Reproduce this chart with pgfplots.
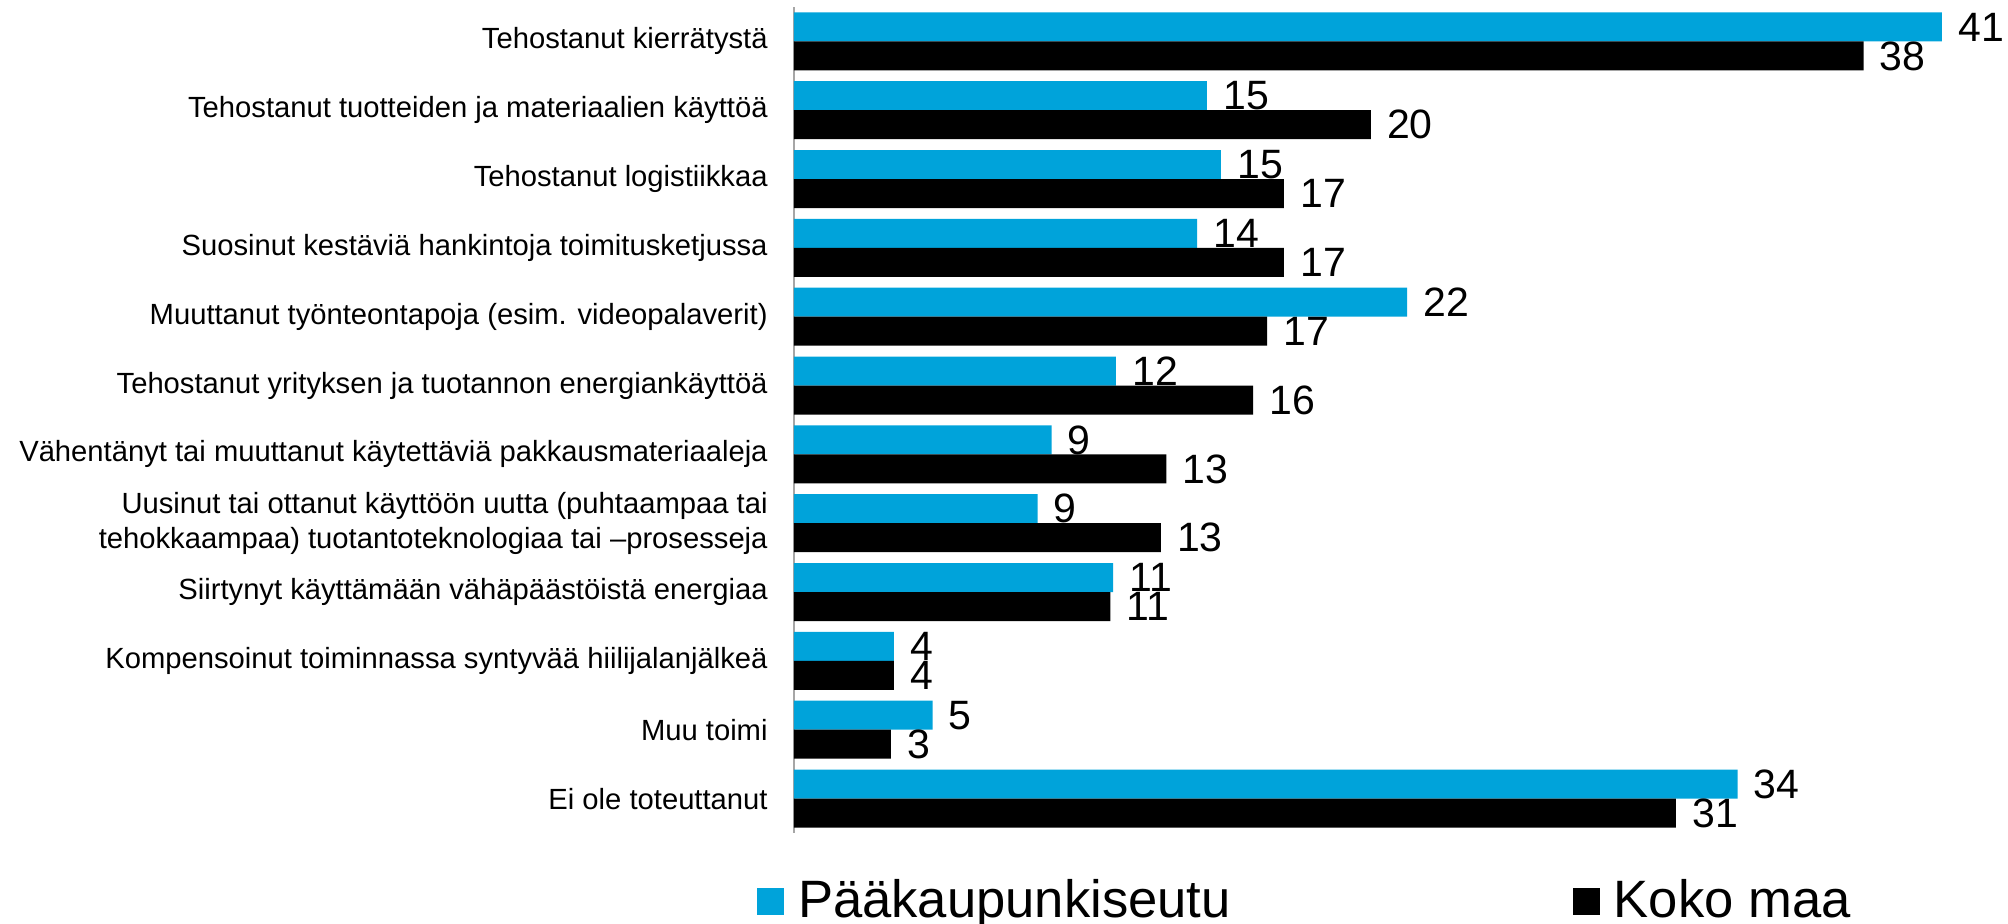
\documentclass[border=0pt]{standalone}
\usepackage{fontspec}
\setmainfont{Liberation Sans}
\usepackage{pgfplots}
\usepackage{pgfplotstable}
\pgfplotsset{compat=1.18}
\definecolor{pkblue}{RGB}{0,163,218}
\definecolor{axgray}{RGB}{166,166,166}

\pgfplotstableread{
y v l
0 33.7 34
1 4.95 5
2 3.57 4
3 11.4 11
4 8.7 9
5 9.2 9
6 11.5 12
7 21.9 22
8 14.4 14
9 15.25 15
10 14.75 15
11 41.0 41
}\pk

\pgfplotstableread{
y v l
0 31.5 31
1 3.46 3
2 3.57 4
3 11.3 11
4 13.1 13
5 13.3 13
6 16.4 16
7 16.9 17
8 17.5 17
9 17.5 17
10 20.6 20
11 38.2 38
}\koko

\begin{document}
\begin{tikzpicture}
\begin{axis}[
  xbar,
  scale only axis,
  width=602pt, height=413pt,
  xmin=0, xmax=43,
  ymin=-0.5, ymax=11.5,
  clip=false,
  axis x line=none,
  axis y line*=left,
  y axis line style={draw=axgray, line width=0.75pt},
  ytick={0,...,11},
  yticklabels={
    Ei ole toteuttanut,
    Muu toimi,
    Kompensoinut toiminnassa syntyvää hiilijalanjälkeä,
    Siirtynyt käyttämään vähäpäästöistä energiaa,
    {Uusinut tai ottanut käyttöön uutta (puhtaampaa tai\ \\tehokkaampaa) tuotantoteknologiaa tai –prosesseja},
    Vähentänyt tai muuttanut käytettäviä pakkausmateriaaleja,
    Tehostanut yrityksen ja tuotannon energiankäyttöä,
    Muuttanut työnteontapoja (esim. videopalaverit),
    Suosinut kestäviä hankintoja toimitusketjussa,
    Tehostanut logistiikkaa,
    Tehostanut tuotteiden ja materiaalien käyttöä,
    Tehostanut kierrätystä},
  major tick length=0pt,
  tick style={draw=none},
  yticklabel style={font=\fontsize{14.6}{17.5}\selectfont, align=right, inner sep=0pt, xshift=-13pt},
  bar width=14.5pt,
  point meta=explicit symbolic,
  nodes near coords={\pgfplotspointmeta},
  every node near coord/.append style={anchor=west, inner sep=0pt, xshift=8pt, font=\fontsize{20.5}{20.5}\selectfont, text=black},
  legend columns=2,
  legend cell align=left,
  legend image code/.code={\fill[#1] (0pt,1.15pt) rectangle (13.5pt,14.65pt);},
  legend style={draw=none, fill=none, inner sep=0pt, outer sep=0pt,
    at={(-0.0307,-0.0805)}, anchor=west,
    font=\fontsize{26.3}{26.3}\selectfont,
    cells={anchor=base west},
    nodes={inner sep=0pt},
    /tikz/every odd column/.append style={column sep=7pt},
    /tikz/every even column/.append style={column sep=171pt}},
]
\addplot[fill=pkblue, draw=none, bar shift=7.25pt] table[x=v, y=y, meta=l] {\pk};
\addlegendentry{Pääkaupunkiseutu}
\addplot[fill=black, draw=none, bar shift=-7.25pt] table[x=v, y=y, meta=l] {\koko};
\addlegendentry{Koko maa}
\end{axis}
\pgfresetboundingbox
\path[use as bounding box] (-397pt,-45.5pt) rectangle (607pt,416.5pt);
\end{tikzpicture}
\end{document}
